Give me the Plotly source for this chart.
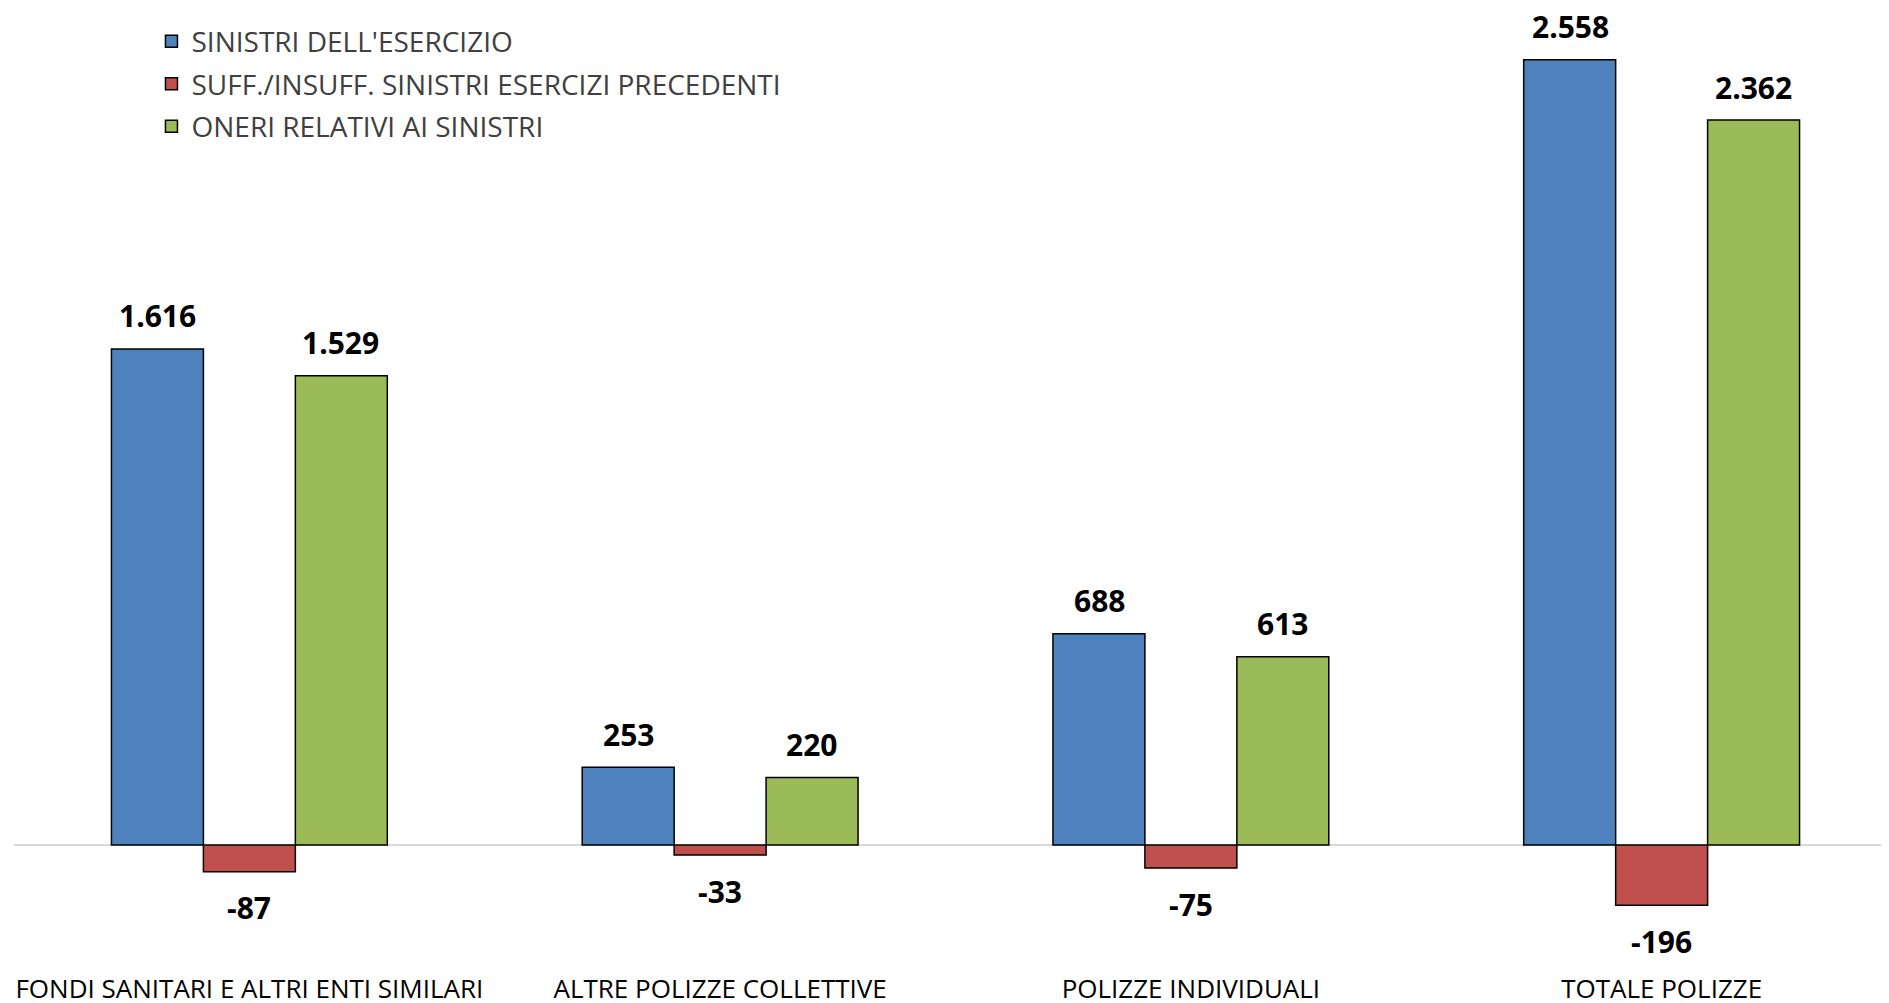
import plotly.graph_objects as go

categories = ["FONDI SANITARI E ALTRI ENTI SIMILARI", "ALTRE POLIZZE COLLETTIVE",
              "POLIZZE INDIVIDUALI", "TOTALE POLIZZE"]
series_names = ["SINISTRI DELL'ESERCIZIO",
                "SUFF./INSUFF. SINISTRI ESERCIZI PRECEDENTI",
                "ONERI RELATIVI AI SINISTRI"]
sinistri_esercizio = [1616, 253, 688, 2558]
suff_insuff = [-87, -33, -75, -196]
oneri = [1529, 220, 613, 2362]
colors = ["#4F81BD", "#C0504D", "#9BBB59"]

series_values = [sinistri_esercizio, suff_insuff, oneri]

label_font = "Open Sans"
text_font = "Open Sans"

fig = go.Figure()
for i, (name, vals, col) in enumerate(zip(series_names, series_values, colors)):
    fig.add_trace(go.Bar(
        x=categories, y=vals, name=name,
        marker=dict(color=col, line=dict(color="black", width=1.5)),
        offsetgroup=str(i), legendgroup=str(i),
        hoverinfo="skip",
    ))

def fmt(v):
    return f"{v:,}".replace(",", ".")

annotations = []
for i, vals in enumerate(series_values):
    for c, v in zip(categories, vals):
        annotations.append(dict(
            x=c, y=v, xref="x", yref="y", text=fmt(v), showarrow=False,
            xshift=(i - 1) * 91.6, yshift=33 if v >= 0 else -36,
            yanchor="middle", xanchor="center", borderpad=0,
            font=dict(family=label_font, size=30, color="black", weight="bold"),
        ))

fig.update_layout(
    width=1889, height=1003,
    margin=dict(l=6, r=0, t=0, b=40),
    plot_bgcolor="white", paper_bgcolor="white",
    barmode="group", bargap=0.414, bargroupgap=0,
    annotations=annotations,
    showlegend=True,
    legend=dict(
        x=0.073, y=0.991, xanchor="left", yanchor="top",
        font=dict(family=text_font, size=28, color="#404040"),
        tracegroupgap=3, bgcolor="rgba(0,0,0,0)",
        itemwidth=30,
    ),
    xaxis=dict(
        range=[-0.5, 3.5], showgrid=False, showline=False, ticks="",
        tickfont=dict(family=text_font, size=26, color="black"),
        fixedrange=True,
    ),
    yaxis=dict(
        range=[-410.6, 2727], showgrid=False, showticklabels=False, ticks="",
        zeroline=True, zerolinecolor="#D9D9D9", zerolinewidth=2,
        showline=False, fixedrange=True,
    ),
)

fig.write_html("out.html")
